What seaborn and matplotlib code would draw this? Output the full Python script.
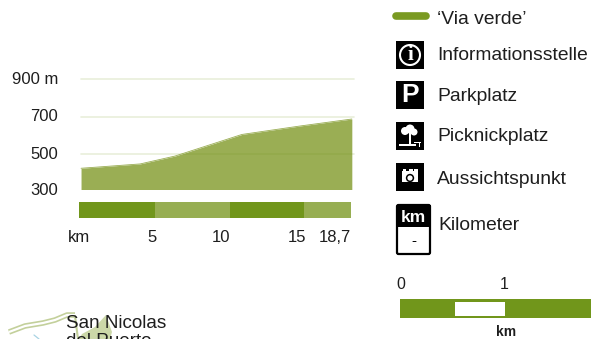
import numpy as np
import pandas as pd
import matplotlib
matplotlib.use("Agg")
import matplotlib.pyplot as plt
from matplotlib.patches import Rectangle, FancyBboxPatch, Circle, Polygon
from matplotlib.transforms import ScaledTranslation
import seaborn as sns

# ---- data ----
km = [0.14, 4.2, 6.6, 11.2, 15.2, 18.75]
elevation = [425, 448, 490, 605, 650, 687]
band_widths = [5.22, 5.14, 5.09, 3.25]
band_colors = ["#71961b", "#97ae52", "#71961b", "#97ae52"]
grid_levels = [500, 700, 900]
y_labels = ["500", "700", "900 m"]
x_ticks = [0, 5, 10, 15, 18.7]
x_labels = ["km", "5", "10", "15", "18,7"]
legend_labels = ["\u2018Via verde\u2019", "Informationsstelle", "Parkplatz",
                 "Picknickplatz", "Aussichtspunkt", "Kilometer"]
legend_y = [19, 56, 96.5, 136.5, 180, 226]
baseline = 312

W, H = 591, 339
sns.set_theme(style="white")
plt.rcParams["font.family"] = ["Liberation Sans", "DejaVu Sans"]
TXT = "#1e1e1e"
GREEN = "#71961b"

fig = plt.figure(figsize=(W / 100, H / 100), dpi=100, facecolor="white")

def px_axes(x0, y0, x1, y1, **kw):
    return fig.add_axes([x0 / W, 1 - y1 / H, (x1 - x0) / W, (y1 - y0) / H], **kw)

# elevation profile
ax = px_axes(79, 79, 354, 189.5)
df = pd.DataFrame({"km": km, "m": elevation})
sns.lineplot(data=df, x="km", y="m", ax=ax, color="#9aae54", lw=0.6, zorder=2)
ax.fill_between(km, baseline, elevation, color="#9aae54", lw=0, zorder=2)
ax.set_xlim(0, 18.9)
ax.set_ylim(baseline, 900)
ax.set_xticks([])
ax.set_yticks(grid_levels, y_labels, fontsize=12, color=TXT)
ax.tick_params(axis="y", length=0, pad=15)
ax.set_xlabel("")
ax.set_ylabel("")
for s in ax.spines.values():
    s.set_visible(False)
for lv in grid_levels:
    ax.axhline(lv, color=GREEN, alpha=0.16, lw=1.2, zorder=3, xmin=0.007, clip_on=False)
for lab in ax.get_yticklabels():
    lab.set_transform(lab.get_transform() + ScaledTranslation(0, 1.5 / 100, fig.dpi_scale_trans))
ax.text(-0.0765, -0.012, "300", transform=ax.transAxes, ha="right", va="center",
        fontsize=12, color=TXT)

# kilometre band
bx = px_axes(79, 202, 354, 218)
left = 0
for w, c in zip(band_widths, band_colors):
    bx.barh(0, w, left=left, height=1, color=c, lw=0)
    left += w
bx.set_xlim(0, 18.9)
bx.set_ylim(-0.5, 0.5)
bx.set_yticks([])
bx.set_xticks(x_ticks, x_labels, fontsize=12, color=TXT)
bx.tick_params(axis="x", length=0, pad=9)
for s in bx.spines.values():
    s.set_visible(False)
labs = bx.get_xticklabels()
labs[-1].set_ha("right")
labs[2].set_transform(labs[2].get_transform() + ScaledTranslation(-4 / 100, 0, fig.dpi_scale_trans))

# overlay in pixel units: legend, scale bar and map fragment
ov = fig.add_axes([0, 0, 1, 1], facecolor="none")
ov.set_xlim(0, W)
ov.set_ylim(H, 0)
ov.axis("off")

ov.plot([396, 426], [15.5, 15.5], color="#7a9a22", lw=5.5, solid_capstyle="round")
for lab, y, x in zip(legend_labels, legend_y, [437, 437, 437, 437, 437, 438]):
    ov.text(x, y, lab, fontsize=13.9, color=TXT, ha="left", va="center")

def square(y0):
    ov.add_patch(Rectangle((396, y0), 28, 28, color="black", lw=0))

square(41)
ov.add_patch(Circle((410, 55), 10, fc="none", ec="white", lw=1.5))
ov.text(410, 55.5, "i", color="white", fontsize=15, ha="center", va="center",
        fontweight="bold", family="Liberation Serif")
square(81)
ov.text(410.5, 95.5, "P", color="white", fontsize=19, ha="center", va="center", fontweight="bold")
square(122)
ov.add_patch(Circle((405, 131), 4, color="white", lw=0))
ov.add_patch(Circle((410, 129), 4.5, color="white", lw=0))
ov.add_patch(Circle((414, 132), 3.5, color="white", lw=0))
ov.add_patch(Rectangle((408.5, 131), 2.5, 13, color="white", lw=0))
ov.add_patch(Rectangle((399, 144), 17, 1.5, color="white", lw=0))
ov.add_patch(Rectangle((414, 142), 7, 1.2, color="white", lw=0))
ov.add_patch(Rectangle((419, 142), 1.2, 5, color="white", lw=0))
square(163)
ov.add_patch(Rectangle((402, 171), 16, 11, color="white", lw=0))
for xb in (402.5, 409, 414):
    ov.add_patch(Rectangle((xb, 168.5), 3.5, 3, color="white", lw=0))
ov.add_patch(Circle((410, 178), 3.4, fc="white", ec="black", lw=1.1))

ov.add_patch(FancyBboxPatch((397, 205), 33, 49, boxstyle="round,pad=0,rounding_size=1.5",
                            fc="white", ec="black", lw=1.6))
ov.add_patch(Rectangle((396.5, 204.5), 34, 22.5, color="black", lw=0))
ov.text(413.5, 217, "km", color="white", fontsize=12.5, fontweight="bold", ha="center", va="center")
ov.text(413.5, 241, "-", color="black", fontsize=11, ha="center", va="center")

# scale bar
ov.add_patch(Rectangle((400, 298.5), 191, 19.5, color=GREEN, lw=0))
ov.add_patch(Rectangle((455, 301.5), 50, 14, color="white", lw=0))
ov.text(401, 284.5, "0", fontsize=11.5, color=TXT, ha="center", va="center")
ov.text(504, 284.5, "1", fontsize=11.5, color=TXT, ha="center", va="center")
ov.text(506, 332.5, "km", fontsize=10, color=TXT, ha="center", va="center", fontweight="bold")

# map fragment
road_x = [9, 25, 43, 55, 67, 75]
road_y = [332, 326, 323, 320, 315, 315]
ov.plot(road_x, road_y, color="#c3d09b", lw=4, solid_capstyle="butt")
ov.plot(road_x, road_y, color="white", lw=1.6, solid_capstyle="butt")
ov.add_patch(Polygon([[79, 339], [82, 334], [95, 327], [106, 315], [112, 332], [110, 339]],
                     color="#ccd8a8", lw=0))
ov.plot([75, 78], [316, 339], color="#c3d09b", lw=1.5)
ov.plot([34, 39], [335, 339], color="#a8d3e3", lw=0.9)
ov.text(66, 323, "San Nicolas", fontsize=13.6, color=TXT, ha="left", va="center")
ov.text(66, 342, "del Puerto", fontsize=13.6, color=TXT, ha="left", va="center", clip_on=True)

fig.savefig("out.png", dpi=100)
